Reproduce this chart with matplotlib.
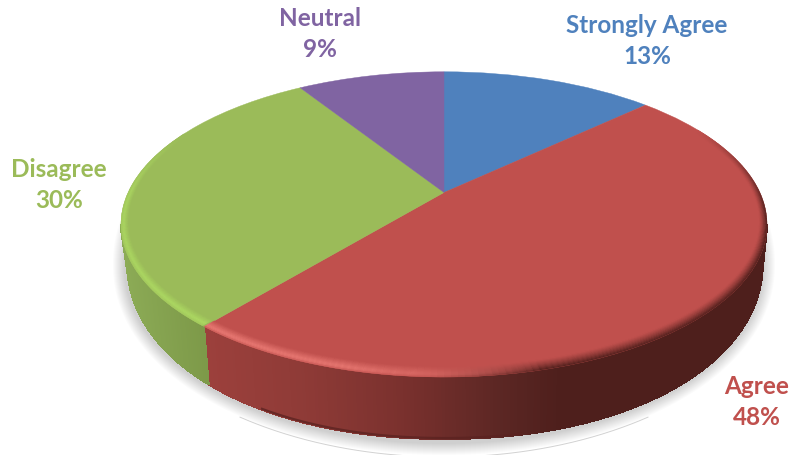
import numpy as np
import matplotlib
matplotlib.use("Agg")
import matplotlib.pyplot as plt
from matplotlib.collections import PolyCollection
from matplotlib.colors import to_rgb
from matplotlib.path import Path
from matplotlib.transforms import Transform

categories = ["Strongly Agree", "Agree", "Disagree", "Neutral"]
values = [13, 48, 30, 9]
colors = ["#4f81bd", "#c0504d", "#9bbb59", "#8064a2"]

# layout
label_pos = [(647, 41), (757, 402), (59, 185), (320, 34)]
CX, AP_Y, C, P = 444.0, 193.5, 0.209, -105.5
R = 323 * np.sqrt(1 - C ** 2)
BX, BY, BRX, BRY, BP = 445.0, 262.0, 318.0, 178.0, 2.1


def project(xy):
    xy = np.asarray(xy, float)
    w = 1 + C * xy[..., 1]
    return np.stack([CX + R * xy[..., 0] / w, (AP_Y + P * xy[..., 1]) / w], axis=-1)


class Persp(Transform):
    input_dims = output_dims = 2
    is_affine = False
    has_inverse = False

    def transform_non_affine(self, values):
        return project(values)

    def transform_path_non_affine(self, path):
        return Path(project(path.vertices), path.codes)


def unit(theta, r=1.0):
    """theta: degrees clockwise from the top of the disc"""
    t = np.radians(theta)
    return np.stack([r * np.sin(t), r * np.cos(t)], axis=-1)


def lerp(a, b, t):
    return tuple(np.array(a) * (1 - t) + np.array(b) * t)


def stops(x, xs, cols):
    arr = np.array([to_rgb(c) for c in cols])
    return tuple(np.interp(x, xs, arr[:, i]) for i in range(3))


def bottom_y(x):
    u = np.clip(np.abs(x - BX) / BRX, 0, 1)
    return BY + BRY * (1 - u ** BP) ** (1 / BP)


fig = plt.figure(figsize=(7.94, 4.56), dpi=100)
ax = fig.add_axes([0, 0, 1, 1])

# soft shadow
tt = np.linspace(0, 2 * np.pi, 720)
for k in range(1, 13):
    grow = 14 - k
    sx = BX - 1 + (BRX + grow) * np.cos(tt)
    sy = BY + 3 + (BRY + grow) * np.abs(np.sin(tt)) ** (2 / BP) * np.sign(np.sin(tt))
    ax.fill(sx, sy, color="k", alpha=0.016, lw=0, zorder=1)

# faint arc beneath the pie
arc_x = np.linspace(240, 648, 200)
arc_y = 252 + 206 * np.sqrt(np.clip(1 - ((arc_x - 444) / 345) ** 2, 0, 1))
ax.plot(arc_x, arc_y, color="#d2d2d2", lw=0.7, zorder=1)

# side wall
edges = np.cumsum([0] + values) * 3.6
wall_polys, wall_cols = [], []
red_xs = [205, 300, 400, 500, 560, 770]
red_cs = ["#9c403c", "#8f3b37", "#7b312e", "#5c2724", "#4e1f1c", "#4e1f1c"]
green_xs = [120, 215]
green_cs = ["#8cab56", "#7b9747"]
front_lo = np.degrees(np.arccos(-C))
front_hi = 360 - front_lo
for i, (a, b) in enumerate(zip(edges[:-1], edges[1:])):
    lo, hi = max(a, front_lo), min(b, front_hi)
    if lo >= hi:
        continue
    th = np.arange(lo, hi + 0.5, 0.5)
    th[-1] = hi
    top = project(unit(th))
    bx = BX + (top[:, 0] - CX) * BRX / 323
    by = bottom_y(bx)
    for j in range(len(th) - 1):
        wall_polys.append([top[j], top[j + 1], (bx[j + 1], by[j + 1]), (bx[j], by[j])])
        xm = top[j, 0]
        wall_cols.append(stops(xm, red_xs, red_cs) if i == 1 else stops(xm, green_xs, green_cs))
ax.add_collection(PolyCollection(wall_polys, facecolors=wall_cols, edgecolors=wall_cols,
                                 linewidths=0.6, antialiaseds=False, zorder=2))

# darker lip along the foot of the red wall
lip_x = np.linspace(262, 520, 120)
ax.plot(lip_x, bottom_y(lip_x) - 1, color="#5a2220", lw=1.6, alpha=0.75, zorder=2.5)

# top face
wedges, _ = ax.pie(values, colors=colors, startangle=90, counterclock=False, radius=1)
persp = Persp() + ax.transData
for w, col in zip(wedges, colors):
    w.set_transform(persp)
    w.set_zorder(3)
    w.set_edgecolor(col)
    w.set_linewidth(0.3)

# bevel along the front rim
red, green = to_rgb(colors[1]), to_rgb(colors[2])
r_hi, r_dark, g_hi = to_rgb("#ea7a74"), to_rgb("#4e1f1c"), to_rgb("#aedb63")
s_steps = np.linspace(0, 1, 11)
bevel_polys, bevel_cols = [], []
for th0 in np.arange(62, 296, 1.0):
    th1 = th0 + 1.0
    is_red = edges[1] <= th0 < edges[2]
    if not is_red and not edges[2] <= th0 < edges[3]:
        continue
    th1 = min(th1, edges[2]) if is_red else th1
    wid0 = 0.022 + 0.024 * np.cos(np.radians(th0)) ** 2
    wid1 = 0.022 + 0.024 * np.cos(np.radians(th1)) ** 2
    for s0, s1 in zip(s_steps[:-1], s_steps[1:]):
        sm = 0.5 * (s0 + s1)
        if is_red:
            dark = np.interp(th0, [62, 95, 165, 182], [0, 1, 1, 0])
            hi = np.interp(th0, [165, 195, 219.6], [0, 0.95, 1])
            col = lerp(red, r_dark, dark * sm ** 1.3)
            prof = np.interp(sm, [0, 0.7, 0.9, 1], [0, 1, 0.8, 0.2])
            col = lerp(col, r_hi, hi * prof)
        else:
            hi = np.interp(th0, [219.6, 270, 296], [1, 0.85, 0])
            prof = np.interp(sm, [0, 0.7, 1], [0, 1, 0.5])
            col = lerp(green, g_hi, hi * prof)
        bevel_polys.append([unit(th0, 1 - wid0 * (1 - s0)), unit(th1, 1 - wid1 * (1 - s0)),
                            unit(th1, 1 - wid1 * (1 - s1)), unit(th0, 1 - wid0 * (1 - s1))])
        bevel_cols.append(col)
ax.add_collection(PolyCollection(bevel_polys, facecolors=bevel_cols, edgecolors=bevel_cols,
                                 linewidths=0.2, transform=persp, zorder=4))

# labels
for cat, val, col, (lx, ly) in zip(categories, values, colors, label_pos):
    ax.text(lx, ly, f"{cat}\n{val}%", color=col, ha="center", va="center", family="Lato",
            fontweight="bold", fontsize=17.5, linespacing=1.42, zorder=6)

ax.set_aspect("auto")
ax.set_xlim(0, 794)
ax.set_ylim(456, 0)
ax.axis("off")
fig.savefig("out.png", dpi=100)
